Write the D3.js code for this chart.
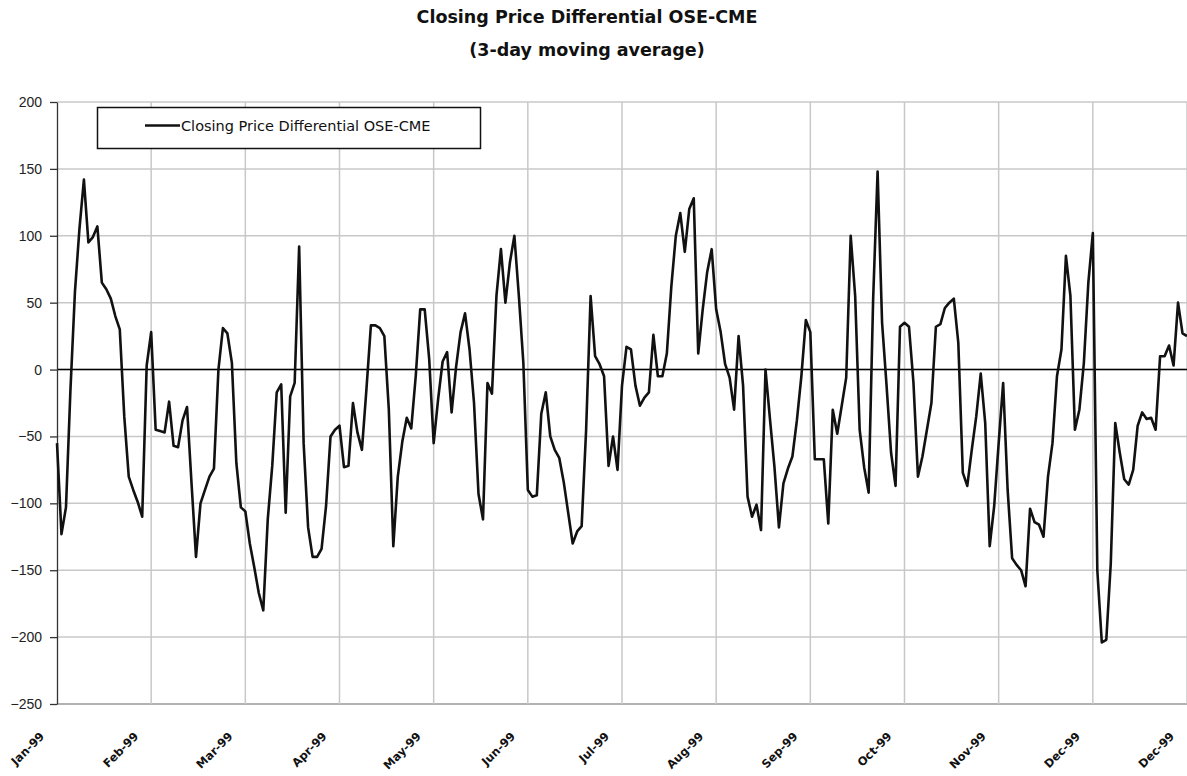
<!DOCTYPE html>
<meta charset="utf-8">
<script src="https://d3js.org/d3.v7.min.js"></script>

<style>
  body { margin: 0; background: #fff; }

  .title {
    font-family: "DejaVu Sans", Verdana, sans-serif;
    font-weight: bold;
    font-size: 17.5px;
    fill: #111;
  }

  .grid line {
    stroke: #c8c8c8;
    stroke-width: 1.5px;
  }

  .yaxis text {
    font-family: "Liberation Sans", Arial, sans-serif;
    font-size: 14px;
    fill: #222;
  }

  .yaxis path, .yaxis line {
    stroke: #333;
    stroke-width: 1.3px;
  }

  .xlab {
    font-family: "DejaVu Sans", Verdana, sans-serif;
    font-weight: bold;
    font-size: 11.5px;
    fill: #111;
  }

  .series {
    fill: none;
    stroke: #111;
    stroke-width: 2.6px;
    stroke-linejoin: round;
  }

  .legend text {
    font-family: "DejaVu Sans", Verdana, sans-serif;
    font-size: 14.5px;
    fill: #111;
  }
</style>

<body>
<div id="chart"></div>

<script>
  // 3-day moving average of the OSE-CME closing price differential,
  // one value per trading day, grouped by the month each tick opens
  var jan = [-55, -123, -103, -15, 58, 105, 142, 95, 99, 107, 65, 60, 53, 40, 30, -35, -80, -90, -99, -110, 3];
  var feb = [28, -45, -46, -47, -24, -57, -58, -38, -28, -85, -140, -100, -90, -80, -74, 0, 31, 27, 5, -70, -103];
  var mar = [-106, -130, -148, -167, -180, -112, -72, -17, -11, -107, -20, -10, 92, -55, -118, -140, -140, -134, -102, -50, -45];
  var apr = [-42, -73, -72, -25, -47, -60, -15, 33, 33, 31, 25, -30, -132, -80, -54, -36, -44, -5, 45, 45, 8];
  var may = [-55, -22, 6, 13, -32, 2, 28, 42, 15, -25, -93, -112, -10, -18, 55, 90, 50, 80, 100, 55, 5];
  var jun = [-90, -95, -94, -33, -17, -50, -60, -66, -84, -107, -130, -121, -117, -45, 55, 10, 4, -5, -72, -50, -75];
  var jul = [-12, 17, 15, -12, -27, -21, -17, 26, -5, -5, 12, 62, 100, 117, 88, 120, 128, 12, 45, 73, 90];
  var aug = [45, 28, 4, -6, -30, 25, -12, -95, -110, -101, -120, 0, -37, -73, -118, -85, -74, -65, -38, -5, 37];
  var sep = [28, -67, -67, -67, -115, -30, -48, -27, -6, 100, 55, -45, -73, -92, 52, 148, 35, -12, -62, -87, 32];
  var oct = [35, 32, -10, -80, -65, -45, -25, 32, 34, 46, 50, 53, 20, -77, -87, -60, -35, -3, -40, -132, -102];
  var nov = [-55, -10, -90, -141, -146, -150, -162, -104, -114, -116, -125, -80, -55, -5, 15, 85, 55, -45, -30, 5, 65];
  var dec = [102, -150, -204, -202, -145, -40, -62, -82, -86, -75, -42, -32, -37, -36, -45, 10, 10, 18, 3, 50, 27, 25];

  var xLabels = ["Jan-99", "Feb-99", "Mar-99", "Apr-99", "May-99", "Jun-99", "Jul-99",
                 "Aug-99", "Sep-99", "Oct-99", "Nov-99", "Dec-99", "Dec-99"];
  var yTicks = [-250, -200, -150, -100, -50, 0, 50, 100, 150, 200];

  var seriesName = "Closing Price Differential OSE-CME";
  var titleLines = ["Closing Price Differential OSE-CME", "(3-day moving average)"];

  var values = [].concat(jan, feb, mar, apr, may, jun, jul, aug, sep, oct, nov, dec);
  var labelStep = 21;

  var width = 1187,
      height = 776,
      margin = {top: 102, right: 0, bottom: 72, left: 57};

  var svg = d3.select("#chart")
      .append("svg")
      .attr("width", width)
      .attr("height", height)
      .style("display", "block")
      .style("background", "#fff");

  var x = d3.scaleLinear()
      .domain([0, values.length - 1])
      .range([margin.left, width - margin.right]);

  var y = d3.scaleLinear()
      .domain([-250, 200])
      .range([height - margin.bottom, margin.top]);

  // title
  svg.append("g")
    .selectAll("text")
      .data(titleLines)
    .enter().append("text")
      .attr("class", "title")
      .attr("x", 587)
      .attr("y", function(d, i) { return 23 + i * 33; })
      .attr("text-anchor", "middle")
      .text(function(d) { return d; });

  // grid
  var grid = svg.append("g").attr("class", "grid");

  grid.selectAll(".hgrid")
      .data(yTicks)
    .enter().append("line")
      .attr("class", "hgrid")
      .attr("x1", margin.left)
      .attr("x2", width - margin.right)
      .attr("y1", function(d) { return y(d); })
      .attr("y2", function(d) { return y(d); })
      .style("stroke", function(d) { return d === -250 ? "#999" : null; });

  var tickIdx = xLabels.map(function(d, i) { return i * labelStep; });

  grid.selectAll(".vgrid")
      .data(tickIdx.slice(1))
    .enter().append("line")
      .attr("class", "vgrid")
      .attr("x1", function(d) { return x(d); })
      .attr("x2", function(d) { return x(d); })
      .attr("y1", y(200))
      .attr("y2", y(-250));

  // zero line
  svg.append("line")
      .attr("x1", margin.left)
      .attr("x2", width - margin.right)
      .attr("y1", y(0))
      .attr("y2", y(0))
      .style("stroke", "#000")
      .style("stroke-width", 1.5);

  // y axis
  svg.append("g")
      .attr("class", "yaxis")
      .attr("transform", "translate(" + margin.left + ",0)")
      .call(d3.axisLeft(y).tickValues(yTicks).tickSize(7).tickSizeOuter(0).tickPadding(8));

  // x labels, slanted
  svg.append("g")
    .selectAll("text")
      .data(tickIdx)
    .enter().append("text")
      .attr("class", "xlab")
      .attr("text-anchor", "end")
      .attr("transform", function(d) {
        return "translate(" + (x(d) - 12) + "," + 737 + ") rotate(-45)";
      })
      .text(function(d, i) { return xLabels[i]; });

  // series
  var line = d3.line()
      .x(function(d, i) { return x(i); })
      .y(function(d) { return y(d); });

  svg.append("path")
      .datum(values)
      .attr("class", "series")
      .attr("d", line);

  // legend
  var legend = svg.append("g").attr("class", "legend");

  legend.append("rect")
      .attr("x", 97.5)
      .attr("y", 107.5)
      .attr("width", 383)
      .attr("height", 41)
      .style("fill", "#fff")
      .style("stroke", "#111")
      .style("stroke-width", 1.5);

  legend.append("line")
      .attr("x1", 145)
      .attr("x2", 180)
      .attr("y1", 125.5)
      .attr("y2", 125.5)
      .style("stroke", "#111")
      .style("stroke-width", 2.6);

  legend.append("text")
      .attr("x", 181)
      .attr("y", 131)
      .text(seriesName);
</script>
</body>
